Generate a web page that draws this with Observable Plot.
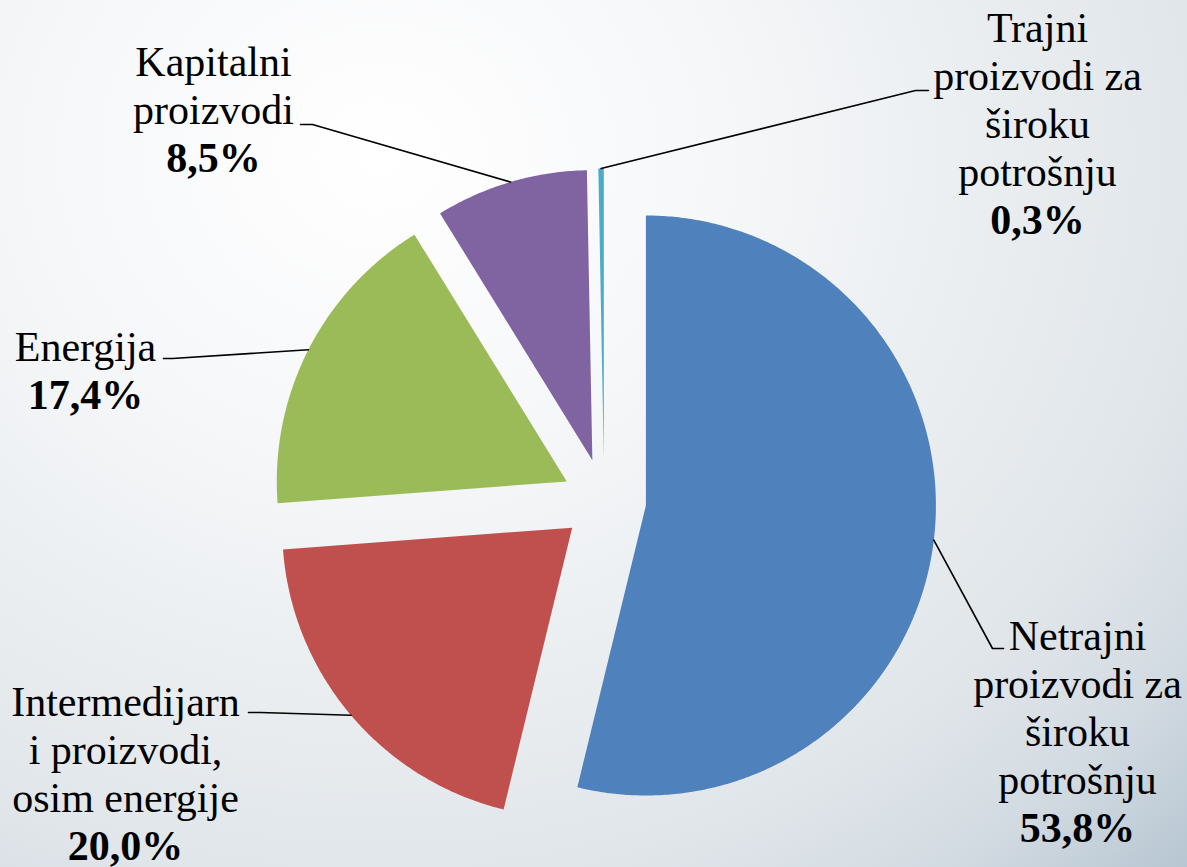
<!DOCTYPE html>
<html>
<head>
<meta charset="utf-8">
<script src="https://cdn.jsdelivr.net/npm/d3@7"></script>
<script src="https://cdn.jsdelivr.net/npm/@observablehq/plot@0.6"></script>
<style>
  html, body { margin: 0; padding: 0; }
  #chart {
    width: 1187px; height: 867px; overflow: hidden;
    background: radial-gradient(farthest-corner at 32% 18%, #ffffff 0%, #f6f7f9 30%, #e9edf0 55%, #e1e6ea 72%, #d3dbe2 86%, #b7c6d2 100%);
  }
  #chart svg { background: transparent; display: block; }
</style>
</head>
<body>
<div id="chart"></div>
<script>
// ---- data ----
const categories = [
  "Netrajni proizvodi za široku potrošnju",
  "Intermedijarni proizvodi, osim energije",
  "Energija",
  "Kapitalni proizvodi",
  "Trajni proizvodi za široku potrošnju"
];
const shares = [53.8, 20.0, 17.4, 8.5, 0.3];
const labelNames = [
  "Netrajni\nproizvodi za\nširoku\npotrošnju",
  "Intermedijarn\ni proizvodi,\nosim energije",
  "Energija",
  "Kapitalni\nproizvodi",
  "Trajni\nproizvodi za\nširoku\npotrošnju"
];
const pctLabels = ["53,8%", "20,0%", "17,4%", "8,5%", "0,3%"];
const colors = ["#4F81BD", "#C0504D", "#9BBB59", "#8064A2", "#4BACC6"];

// ---- layout (not data) ----
const W = 1187, H = 867;
const cx = 603.7, cy = 500, R = 290, explode = 42;
const labelPos = [
  {x: 1077, y: 793},
  {x: 125, y: 811},
  {x: 85, y: 360},
  {x: 213, y: 123},
  {x: 1037, y: 185}
];
const leaderEnds = [
  [[992, 648], [1003, 648]],
  [[260, 712], [248, 712]],
  [[172, 358], [163, 358]],
  [[312, 124], [300, 124]],
  [[915, 90], [928, 90]]
];
const lineGap = 48;
const serif = "Liberation Serif, Tinos, Times New Roman, Times, DejaVu Serif";

const arcs = d3.pie().sort(null).value(d => d)(shares);

const slicePts = [];
const leaderPts = [];
arcs.forEach((a, i) => {
  const mid = (a.startAngle + a.endAngle) / 2;
  const ox = cx + explode * Math.sin(mid);
  const oy = cy - explode * Math.cos(mid);
  const name = categories[i];
  slicePts.push({name, x: ox, y: oy});
  const steps = Math.max(2, Math.ceil((a.endAngle - a.startAngle) / (Math.PI / 360)));
  for (let k = 0; k <= steps; k++) {
    const t = a.startAngle + (a.endAngle - a.startAngle) * k / steps;
    slicePts.push({name, x: ox + R * Math.sin(t), y: oy - R * Math.cos(t)});
  }
  leaderPts.push({name, x: ox + R * Math.sin(mid), y: oy - R * Math.cos(mid)});
  leaderEnds[i].forEach(([x, y]) => leaderPts.push({name, x, y}));
});

const nameData = categories.map((c, i) => ({name: c, text: labelNames[i], x: labelPos[i].x, y: labelPos[i].y}));
const pctData = categories.map((c, i) => ({name: c, text: pctLabels[i], x: labelPos[i].x, y: labelPos[i].y + lineGap}));

const plot = Plot.plot({
  width: W, height: H,
  margin: 0,
  style: {background: "transparent", fontFamily: serif},
  x: {domain: [0, W], range: [0, W], axis: null},
  y: {domain: [0, H], range: [0, H], axis: null},
  color: {domain: categories, range: colors},
  marks: [
    Plot.line(slicePts, {x: "x", y: "y", z: "name", fill: "name", stroke: "none", curve: "linear-closed"}),
    Plot.line(leaderPts, {x: "x", y: "y", z: "name", stroke: "black", strokeWidth: 1.6}),
    Plot.text(nameData, {x: "x", y: "y", text: "text", textAnchor: "middle", lineAnchor: "bottom",
      fontSize: 42, fontFamily: serif, lineHeight: lineGap / 42, fill: "black"}),
    Plot.text(pctData, {x: "x", y: "y", text: "text", textAnchor: "middle", lineAnchor: "bottom",
      fontSize: 42, fontFamily: serif, fontWeight: "bold", fill: "black"})
  ]
});
document.getElementById("chart").appendChild(plot);
</script>
</body>
</html>
